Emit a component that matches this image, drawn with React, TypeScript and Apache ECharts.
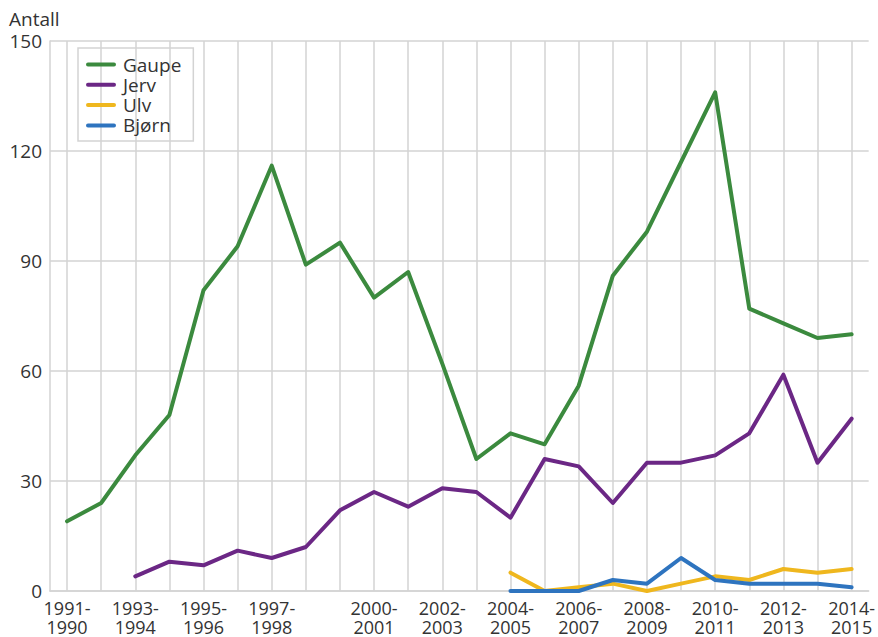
import React, { useEffect, useRef } from "react";
import * as echarts from "echarts";

const categories = [
  "1991-1990", "1992-1993", "1993-1994", "1994-1995", "1995-1996", "1996-1997",
  "1997-1998", "1998-1999", "1999-2000", "2000-2001", "2001-2002", "2002-2003",
  "2003-2004", "2004-2005", "2005-2006", "2006-2007", "2007-2008", "2008-2009",
  "2009-2010", "2010-2011", "2011-2012", "2012-2013", "2013-2014", "2014-2015",
];
const shownLabels = [0, 2, 4, 6, 9, 11, 13, 15, 17, 19, 21, 23];

const gaupe = [19, 24, 37, 48, 82, 94, 116, 89, 95, 80, 87, 62, 36, 43, 40, 56, 86, 98, 117, 136, 77, 73, 69, 70];
const jerv = [null, null, 4, 8, 7, 11, 9, 12, 22, 27, 23, 28, 27, 20, 36, 34, 24, 35, 35, 37, 43, 59, 35, 47];
const ulv = [null, null, null, null, null, null, null, null, null, null, null, null, null, 5, 0, 1, 2, 0, 2, 4, 3, 6, 5, 6];
const bjorn = [null, null, null, null, null, null, null, null, null, null, null, null, null, 0, 0, 0, 3, 2, 9, 3, 2, 2, 2, 1];

const seriesNames = ["Gaupe", "Jerv", "Ulv", "Bjørn"];
const seriesColors = ["#3b8a3e", "#6b2785", "#efb71e", "#2e74bf"];
const seriesData = [gaupe, jerv, ulv, bjorn];

const FONT = "'Open Sans', 'Noto Sans', sans-serif";
const GRID = "#d3d3d3";
const LEGEND_ICON = "path://M2,0 L28,0 A2,2 0 0 1 28,4 L2,4 A2,2 0 0 1 2,0 Z";

export default function App() {
  const ref = useRef<HTMLDivElement>(null);
  useEffect(() => {
    if (!ref.current) return;
    const chart = echarts.init(ref.current, null, { renderer: "svg" });
    chart.setOption({
      animation: false,
      textStyle: { fontFamily: FONT },
      title: {
        text: "Antall",
        left: 4,
        top: 4,
        textStyle: { fontFamily: FONT, fontSize: 19, fontWeight: "normal", color: "#333" },
      },
      legend: {
        orient: "vertical",
        left: 78,
        top: 48,
        data: seriesNames.map((n) => ({ name: n, icon: LEGEND_ICON })),
        borderColor: "#d3d3d3",
        borderWidth: 1.5,
        padding: [7, 12, 6, 8],
        itemGap: 1.3,
        itemWidth: 30,
        itemHeight: 4,
        textStyle: { fontFamily: FONT, fontSize: 19, color: "#333", padding: [0, 0, 0, 2] },
      },
      grid: { left: 50, right: 5, top: 41, bottom: 46, containLabel: false },
      xAxis: {
        type: "category",
        data: categories,
        boundaryGap: true,
        axisLine: { show: true, lineStyle: { color: GRID, width: 1.5 } },
        axisTick: { show: false },
        axisLabel: {
          interval: (index: number) => shownLabels.includes(index),
          formatter: (v: string) => v.replace("-", "-\n"),
          fontFamily: FONT,
          fontSize: 18,
          lineHeight: 19,
          color: "#333",
          margin: 7,
        },
        splitLine: { show: true, interval: 0, alignWithLabel: true, lineStyle: { color: GRID, width: 1.5 } },
      },
      yAxis: {
        type: "value",
        min: 0,
        max: 150,
        interval: 30,
        axisLine: { show: true, lineStyle: { color: GRID, width: 1.5 } },
        axisTick: { show: false },
        axisLabel: { fontFamily: FONT, fontSize: 19, color: "#333", margin: 8 },
        splitLine: { show: true, lineStyle: { color: GRID, width: 1.5 } },
      },
      series: seriesData.map((d, i) => ({
        name: seriesNames[i],
        type: "line",
        data: d,
        symbol: "none",
        color: seriesColors[i],
        lineStyle: { color: seriesColors[i], width: 4, cap: "round", join: "round" },
        connectNulls: false,
      })),
    });
    return () => chart.dispose();
  }, []);
  return <div ref={ref} style={{ position: "absolute", left: 0, top: 0, width: 878, height: 637 }} />;
}
